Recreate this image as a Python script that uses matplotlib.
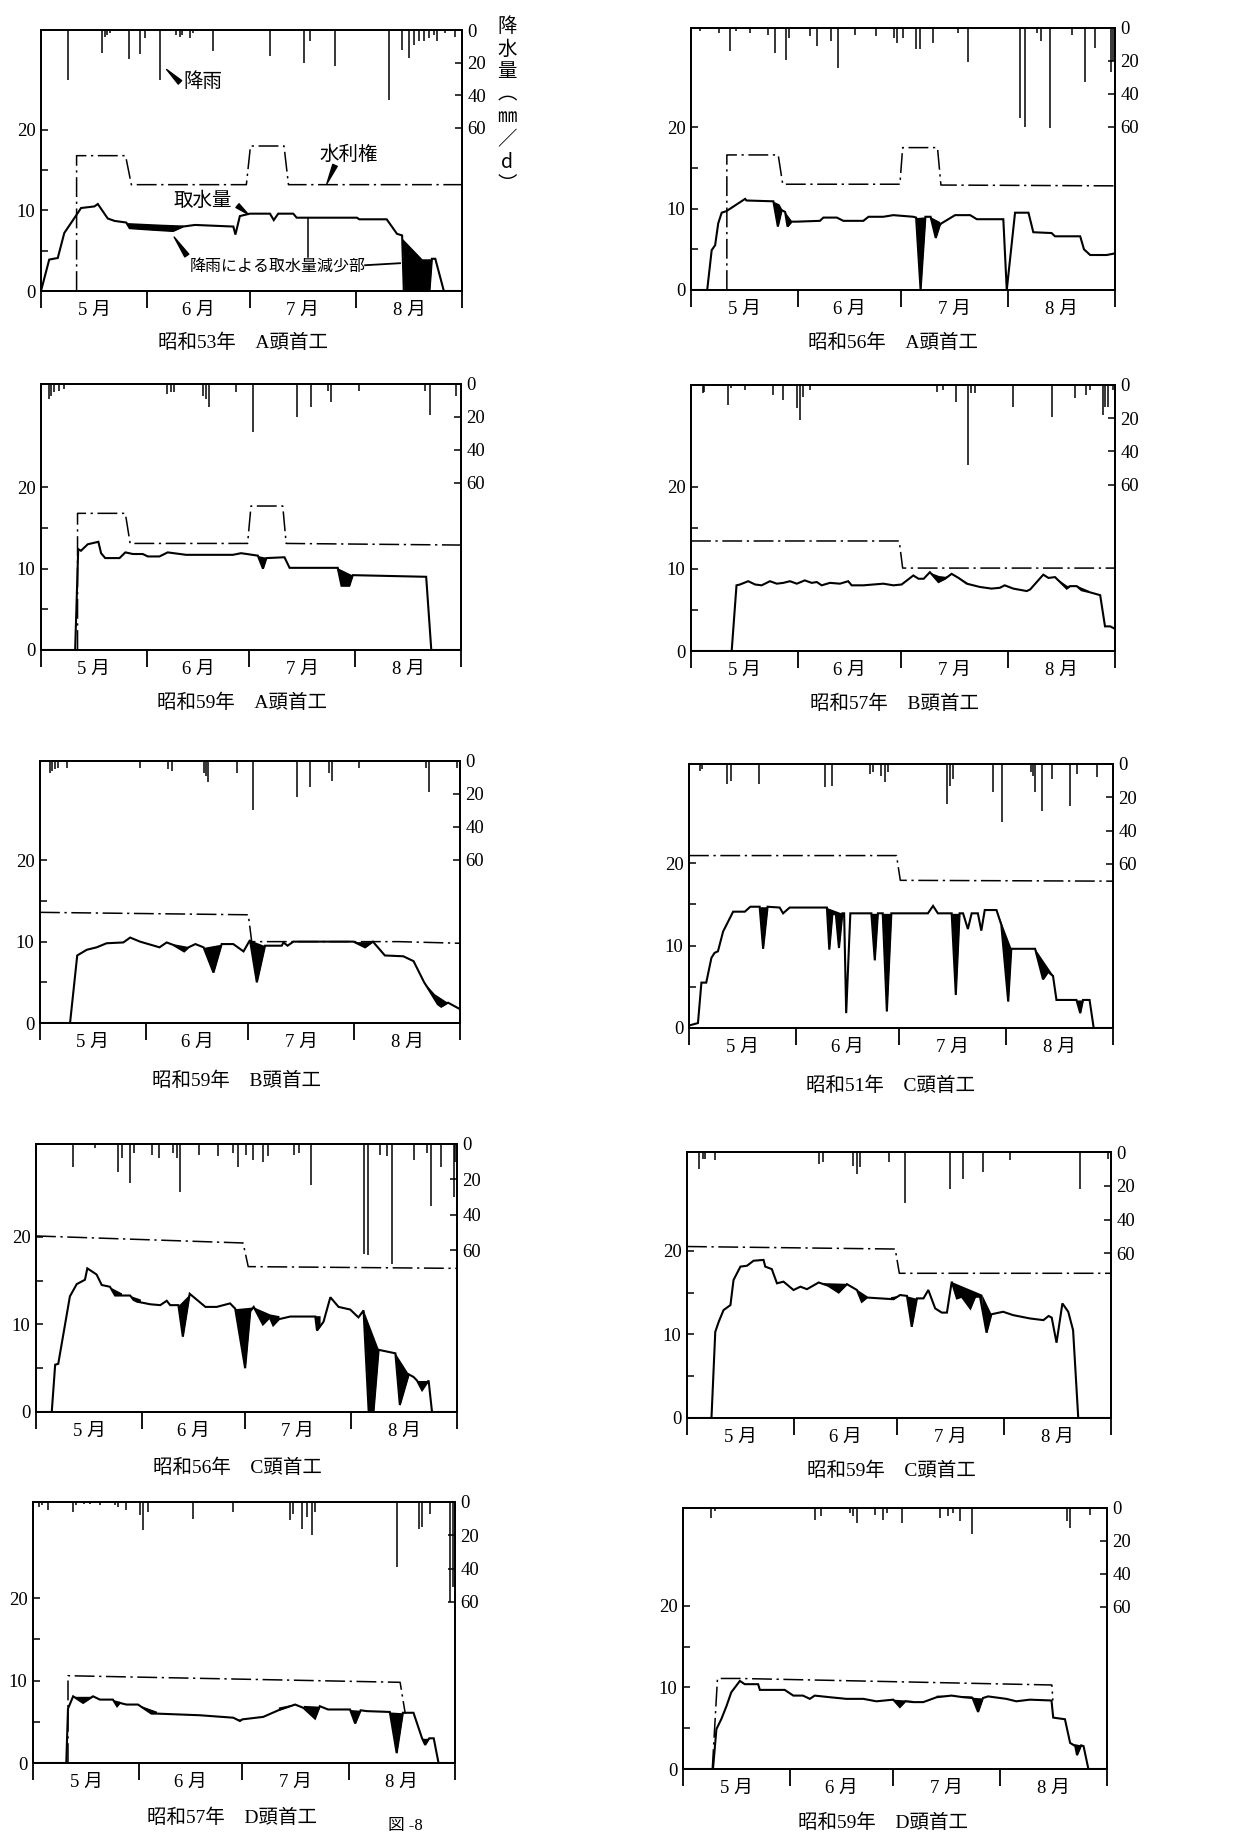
import numpy as np
import matplotlib
matplotlib.use("Agg")
import matplotlib.pyplot as plt

plt.rcParams['font.family'] = ['Liberation Serif', 'Noto Sans CJK JP', 'DejaVu Sans']

W, H = 1255, 1843
DAYS = 123                      # May 1 .. Sep 1
MONTH_EDGES = [0, 31, 61, 92, 123]
MONTH_LABELS = ['5 月', '6 月', '7 月', '8 月']
LEFT_TICKS = [0, 5, 10, 15, 20]
LEFT_LABELS = ['0', '', '10', '', '20']
RAIN_TICKS = [0, 20, 40, 60]

# ---- 昭和53年 A頭首工
p1_rain_day = [7.8, 17.9, 18.6, 19.3, 20.2, 25.7, 28.8, 30.3, 34.7, 39.5, 40.5, 41.2, 43.5, 44.5, 50.3,
               67.0, 76.9, 78.6, 86.0, 101.6, 105.5, 107.4, 108.9, 110.4, 111.8, 113.3, 114.7, 115.7, 118.0, 121.0]
p1_rain_mm = [31, 14, 4, 3, 2, 18, 15, 5, 31, 3, 4, 3, 5, 2, 13,
              16, 20, 6.5, 22, 43, 12, 17, 9, 7, 7, 5, 3, 7, 2, 4.5]
p1_right_day = [10.4, 10.4, 24.7, 26.4, 60.0, 61.2, 71.0, 72.3, 123]
p1_right_val = [0, 16.8, 16.8, 13.2, 13.2, 18.0, 18.0, 13.2, 13.2]
p1_take_day = [0, 2.4, 4.9, 6.8, 10.3, 11.7, 15.6, 16.6, 19.5, 21.5, 24.9, 25.9, 32.7, 38.6, 41.5,
               45.0, 56.2, 56.8, 58.1, 61.0, 66.9, 68.0, 69.3, 73.7, 74.7, 92.3, 93.0, 101.0, 104.0, 105.5,
               106.0, 113.5, 114.2, 115.2, 117.7, 123]
p1_take_val = [0, 3.9, 4.1, 7.2, 9.4, 10.3, 10.5, 10.8, 9.0, 8.7, 8.5, 7.8, 7.6, 7.45, 8.0,
               8.2, 8.0, 7.0, 9.3, 9.6, 9.6, 8.8, 9.6, 9.6, 9.1, 9.1, 8.9, 8.9, 7.1, 6.9,
               0, 0, 4.0, 4.0, 0, 0]
p1_cuts = [([24.9, 30, 35, 41.5], [8.5, 8.4, 8.3, 8.2]),
           ([104.5, 111.3, 114.2], [7.0, 4.0, 4.0])]

# ---- 昭和56年 A頭首工
p2_rain_day = [2.6, 8.2, 11.3, 13.0, 17.0, 22.4, 24.4, 27.6, 28.5, 34.5, 36.5, 40.6, 42.6, 47.6, 53.7,
               59.0, 59.7, 61.6, 65.3, 66.5, 70.3, 77.6, 80.5, 95.5, 97.0, 100.5, 101.5, 104.0, 110.5, 114.4,
               117.3, 121.7, 122.3]
p2_rain_mm = [2, 3, 14, 2, 3, 4, 15, 19.5, 6, 5, 11, 8, 24.6, 4, 5,
              6, 9, 6, 13, 13, 9, 3, 20.5, 55, 60, 3, 8, 61, 4, 33,
              12, 26.6, 20]
p2_right_day = [10.4, 10.4, 25.3, 26.6, 60.6, 61.4, 71.5, 72.5, 123]
p2_right_val = [0, 16.6, 16.6, 13.0, 13.0, 17.5, 17.5, 12.9, 12.8]
p2_take_day = [0, 4.7, 6.0, 7.0, 7.9, 8.9, 10.3, 15.7, 16.1, 23.9, 25.2, 26.3, 27.3, 28.0, 29.2,
               30.7, 37.4, 38.4, 42.3, 44.2, 50.0, 51.5, 55.8, 58.7, 64.5, 65.3, 66.6, 68.0, 69.5, 71.0,
               72.2, 72.7, 76.6, 81.0, 82.9, 90.6, 91.6, 94.0, 97.9, 99.3, 104.6, 105.6, 112.9, 114.0, 115.8,
               120.6, 123]
p2_take_val = [0, 0, 4.9, 5.5, 8.2, 9.5, 9.7, 11.2, 11.0, 10.9, 7.8, 9.8, 9.6, 7.8, 8.4,
               8.4, 8.5, 8.9, 8.9, 8.5, 8.5, 9.0, 9.0, 9.2, 9.0, 8.9, 0, 9.0, 9.0, 6.4,
               8.0, 8.2, 9.2, 9.2, 8.7, 8.7, 0, 9.5, 9.5, 7.1, 7.0, 6.6, 6.6, 5.0, 4.3,
               4.3, 4.5]
p2_cuts = [([23.9, 25.5, 26.3, 27.3, 29.2], [10.9, 10.6, 10.0, 9.6, 8.5]),
           ([65.3, 68.0], [8.9, 9.0]),
           ([69.5, 72.2], [9.0, 8.4])]

# ---- 昭和59年 A頭首工
p3_rain_day = [2.2, 2.9, 3.9, 5.4, 6.8, 37.0, 38.0, 39.0, 47.4, 48.3, 49.1, 57.0, 62.2, 75.0, 79.0,
               84.0, 85.0, 93.0, 112.6, 113.8, 121.6]
p3_rain_mm = [9, 7, 5, 4, 3, 6, 5, 5, 7, 9, 14, 5, 29, 20, 14, 4, 11, 4, 4, 19, 7]
p3_right_day = [10.7, 10.7, 24.7, 26.1, 60.5, 61.5, 70.8, 71.8, 123]
p3_right_val = [0, 16.8, 16.8, 13.1, 13.1, 17.7, 17.7, 13.1, 12.9]
p3_take_day = [0, 10.0, 10.9, 11.7, 13.7, 16.8, 17.6, 18.8, 23.0, 24.7, 26.9, 29.8, 31.3, 34.7, 37.1,
               42.5, 56.2, 58.6, 63.5, 65.0, 66.0, 71.3, 72.8, 86.9, 88.0, 90.3, 91.3, 112.8, 114.3, 123]
p3_take_val = [0, 0, 12.4, 12.2, 13.0, 13.3, 11.9, 11.3, 11.3, 12.0, 11.8, 11.8, 11.5, 11.5, 12.0,
               11.7, 11.7, 11.9, 11.6, 10.0, 11.3, 11.4, 10.1, 10.1, 7.9, 7.9, 9.2, 9.0, 0, 0]
p3_cuts = [([63.5, 66.0], [11.6, 11.4]),
           ([86.9, 91.3], [10.1, 9.2])]

# ---- 昭和57年 B頭首工
p4_rain_day = [3.4, 3.8, 10.6, 11.7, 15.7, 23.9, 26.8, 30.7, 31.6, 32.6, 34.5, 71.3, 73.2, 77.0, 80.5,
               81.2, 82.4, 93.5, 104.6, 111.4, 114.6, 115.8, 119.4, 120.0, 121.1, 122.5]
p4_rain_mm = [5, 4, 12, 2, 3, 6, 9, 14, 21, 7, 3, 4, 3, 10, 48, 5, 5, 13, 19, 8, 6, 3, 18, 13, 13, 3]
p4_right_day = [0, 60.4, 61.4, 123]
p4_right_val = [13.4, 13.4, 10.1, 10.1]
p4_take_day = [0, 11.8, 13.2, 14.2, 16.6, 18.6, 20.5, 22.9, 24.9, 26.8, 28.7, 30.7, 33.0, 35.0, 36.5,
               37.9, 40.3, 43.2, 45.6, 46.6, 50.0, 55.8, 58.7, 61.1, 64.5, 66.0, 67.5, 69.3, 71.8, 73.7,
               75.6, 77.6, 80.0, 83.8, 87.2, 89.6, 91.0, 93.5, 97.4, 98.4, 102.2, 103.7, 105.6, 109.0, 110.0,
               111.9, 113.3, 115.3, 118.7, 120.1, 121.6, 123]
p4_take_val = [0, 0, 8.0, 8.1, 8.5, 8.1, 8.0, 8.5, 8.2, 8.3, 8.5, 8.2, 8.6, 8.3, 8.4,
               8.0, 8.3, 8.2, 8.5, 8.0, 8.0, 8.2, 8.0, 8.1, 9.2, 8.8, 8.8, 9.6, 8.4, 8.8,
               9.4, 8.9, 8.2, 7.8, 7.6, 7.7, 8.0, 7.6, 7.3, 7.5, 9.3, 8.9, 9.0, 7.6, 7.9,
               7.9, 7.4, 7.2, 6.8, 3.0, 3.0, 2.7]
p4_cuts = [([69.3, 71.8, 73.7, 75.6, 77.6, 80.0], [9.6, 9.2, 9.1, 9.4, 9.0, 8.4]),
           ([105.6, 109.0, 111.9, 115.3], [9.0, 8.0, 8.0, 7.4])]

# ---- 昭和59年 B頭首工
p5_rain_day = [2.9, 3.6, 4.3, 5.3, 7.8, 29.3, 37.6, 38.6, 47.9, 48.6, 49.3, 57.6, 62.5, 75.4, 79.1,
               84.5, 85.4, 93.3, 113.0, 114.0, 122.0]
p5_rain_mm = [7, 6, 5, 4, 4, 4, 5, 6, 7, 9, 13, 7, 30, 22, 16, 7, 12, 4, 4, 19, 4]
p5_right_day = [0, 61.0, 62.0, 105, 123]
p5_right_val = [13.6, 13.3, 10.0, 10.0, 9.8]
p5_take_day = [0, 8.8, 10.9, 13.7, 16.6, 19.5, 24.4, 26.4, 29.3, 35.0, 37.1, 39.0, 42.2, 43.5, 45.5,
               47.9, 50.8, 53.2, 56.6, 59.6, 61.5, 63.5, 65.9, 70.8, 71.3, 72.5, 74.2, 91.8, 95.2, 97.5,
               101.0, 106.4, 109.4, 112.5, 114.0, 116.5, 117.5, 119.5, 123]
p5_take_val = [0, 0, 8.3, 9.0, 9.3, 9.8, 9.9, 10.5, 10.0, 9.3, 9.9, 9.6, 8.8, 9.3, 9.7,
               9.3, 6.2, 9.7, 9.7, 8.8, 10.2, 5.0, 9.5, 9.5, 9.9, 9.5, 10.0, 10.0, 9.3, 10.0,
               8.3, 8.2, 7.6, 5.0, 4.0, 2.3, 2.0, 2.5, 1.7]
p5_cuts = [([37.1, 43.5], [9.9, 9.4]),
           ([47.9, 53.2], [9.3, 9.7]),
           ([61.5, 65.9], [10.2, 9.5]),
           ([91.8, 97.5], [10.0, 10.0]),
           ([112.5, 115.5, 119.5], [5.0, 3.6, 2.5])]

# ---- 昭和51年 C頭首工
p6_rain_day = [3.1, 3.9, 11.1, 12.3, 20.3, 39.4, 41.5, 52.4, 53.4, 55.8, 56.8, 57.8, 74.7, 75.6, 76.7,
               88.2, 90.9, 99.3, 99.9, 100.4, 102.5, 105.4, 110.5, 112.5, 118.5]
p6_rain_mm = [4, 3, 12, 10, 12, 14, 13, 6, 5, 7, 11, 5, 24, 13, 9, 17, 35, 5, 7, 17, 28, 9, 25, 6, 8]
p6_right_day = [0, 60.2, 61.3, 123]
p6_right_val = [20.9, 20.9, 17.9, 17.8]
p6_take_day = [0, 2.6, 3.6, 5.0, 6.5, 7.4, 8.4, 9.9, 12.8, 16.2, 17.8, 20.5, 21.5, 22.8, 26.3,
               27.3, 29.2, 40.0, 40.7, 41.6, 42.6, 43.5, 44.5, 45.0, 45.6, 46.8, 52.9, 53.9, 54.8, 56.2,
               57.4, 58.7, 69.3, 70.8, 72.2, 76.2, 77.4, 78.5, 79.5, 80.9, 82.0, 83.8, 84.8, 85.8, 89.2,
               90.6, 92.6, 93.5, 100.4, 102.7, 104.2, 105.6, 106.6, 112.4, 113.5, 114.3, 116.2, 117.4, 123]
p6_take_val = [0.3, 0.6, 5.5, 5.5, 8.5, 9.1, 9.3, 11.7, 14.1, 14.1, 14.7, 14.7, 9.6, 14.7, 14.6,
               13.9, 14.6, 14.6, 9.5, 13.8, 13.8, 9.7, 13.9, 13.9, 1.8, 13.9, 13.9, 8.2, 13.9, 13.9,
               2.0, 13.9, 13.9, 14.8, 13.9, 13.9, 4.0, 13.9, 13.9, 12.0, 13.9, 13.9, 11.8, 14.3, 14.3,
               12.5, 3.2, 9.6, 9.6, 5.9, 6.8, 6.3, 3.4, 3.4, 1.8, 3.4, 3.4, 0, 0]
p6_cuts = [([20.5, 22.8], [14.7, 14.7]),
           ([40.0, 44.5], [14.6, 13.9]),
           ([52.9, 54.8], [13.9, 13.9]),
           ([56.2, 58.7], [13.9, 13.9]),
           ([76.2, 78.5], [13.9, 13.9]),
           ([89.2, 93.5], [14.3, 9.6]),
           ([100.4, 105.6], [9.6, 6.4]),
           ([112.4, 114.3], [3.4, 3.4])]

# ---- 昭和56年 C頭首工
p7_rain_day = [10.9, 17.2, 24.1, 25.0, 27.5, 28.5, 34.0, 36.0, 40.0, 41.2, 42.1, 47.5, 53.3, 57.7, 58.9,
               61.4, 63.5, 66.4, 67.9, 75.3, 76.7, 80.3, 95.7, 96.9, 100.6, 102.5, 104.0, 110.3, 114.3, 115.5,
               118.4, 122.0, 122.5]
p7_rain_mm = [13, 2, 16, 8, 22, 5, 6, 8, 5, 8, 27, 6, 7, 5, 13,
              6, 9, 10, 7, 6, 5, 23, 62, 63, 6, 7, 68, 9, 5, 35,
              13, 30, 10]
p7_right_day = [0, 60.5, 62.0, 123]
p7_right_val = [20.1, 19.3, 16.6, 16.4]
p7_take_day = [0, 4.6, 5.6, 6.5, 9.9, 11.9, 14.3, 15.0, 17.7, 19.2, 21.6, 23.1, 24.1, 27.5, 28.5,
               29.5, 33.4, 36.3, 38.2, 39.2, 41.6, 42.9, 44.9, 49.5, 52.8, 56.7, 58.2, 61.1, 62.6, 63.6,
               66.3, 68.3, 69.3, 71.0, 74.3, 81.6, 82.1, 84.0, 86.0, 88.4, 91.8, 94.2, 95.7, 97.2, 98.6,
               100.1, 105.0, 106.3, 108.9, 110.3, 111.3, 112.8, 114.7, 115.7, 123]
p7_take_val = [0, 0, 5.4, 5.5, 13.2, 14.6, 15.1, 16.4, 15.7, 14.5, 14.3, 13.3, 13.3, 13.3, 12.8,
               12.6, 12.3, 12.2, 12.7, 12.2, 12.2, 8.6, 13.5, 12.0, 12.0, 12.4, 11.8, 5.0, 11.5, 12.0,
               10.0, 10.8, 9.9, 10.6, 10.9, 10.9, 9.3, 10.3, 13.1, 12.0, 11.7, 10.8, 11.6, 0, 0,
               7.1, 6.7, 0.8, 4.3, 4.0, 3.6, 2.5, 3.6, 0, 0]
p7_cuts = [([22.0, 25.0], [14.2, 13.6]),
           ([27.5, 30.5], [13.3, 12.9]),
           ([41.6, 44.9], [12.2, 13.5]),
           ([58.2, 63.6], [11.8, 12.0]),
           ([63.6, 68.3, 71.0], [12.0, 11.2, 11.0]),
           ([81.0, 83.0], [11.0, 11.0]),
           ([95.7, 100.1], [11.6, 7.1]),
           ([105.0, 108.9], [6.7, 4.3]),
           ([111.3, 114.7], [3.6, 3.6])]

# ---- 昭和59年 C頭首工
p8_rain_day = [3.4, 4.6, 5.3, 8.2, 38.2, 39.4, 48.3, 49.3, 50.2, 58.5, 63.3, 76.3, 80.2, 85.9, 93.7, 114.0, 122.0]
p8_rain_mm = [10, 4, 4, 5, 7, 6, 8, 13, 9, 6, 30, 22, 16, 12, 5, 22, 4]
p8_right_day = [0, 60.4, 61.6, 123]
p8_right_val = [20.5, 20.2, 17.3, 17.3]
p8_take_day = [0, 7.1, 8.2, 9.2, 10.6, 12.6, 13.5, 15.5, 17.4, 19.3, 22.2, 22.7, 24.6, 26.1, 28.0,
               30.9, 32.9, 34.8, 38.2, 41.0, 44.0, 46.4, 49.3, 50.7, 52.2, 59.9, 61.8, 63.8, 65.2, 66.7,
               68.6, 70.0, 72.0, 73.9, 75.4, 76.8, 78.3, 79.7, 82.2, 83.6, 85.0, 86.9, 88.3, 91.7, 94.6,
               99.5, 103.4, 104.9, 105.8, 107.2, 108.9, 110.6, 112.0, 113.5, 123]
p8_take_val = [0, 0, 10.3, 11.5, 12.9, 13.5, 16.5, 18.1, 18.2, 18.8, 18.9, 18.1, 17.8, 16.1, 16.3,
               15.3, 15.7, 15.4, 16.2, 15.8, 15.0, 16.0, 15.3, 13.9, 14.4, 14.2, 14.7, 14.6, 10.9, 14.3,
               14.3, 15.3, 13.1, 12.6, 12.6, 16.3, 14.3, 14.5, 13.1, 14.5, 14.5, 10.2, 12.4, 12.7, 12.3,
               11.9, 11.7, 12.2, 12.0, 9.0, 13.7, 12.7, 10.5, 0, 0]
p8_cuts = [([38.2, 46.4], [16.2, 16.1]),
           ([48.5, 52.2], [15.6, 14.6]),
           ([59.0, 61.8], [14.5, 14.7]),
           ([63.8, 66.7], [14.6, 14.3]),
           ([76.8, 85.5], [16.3, 14.8]),
           ([85.5, 88.3], [14.8, 12.4])]

# ---- 昭和57年 D頭首工
p9_rain_day = [1.8, 2.5, 4.4, 11.7, 12.6, 15.0, 16.5, 19.5, 23.8, 24.8, 27.2, 31.1, 32.1, 33.5, 46.5,
               58.2, 74.9, 75.9, 78.3, 79.8, 81.2, 82.2, 106.0, 112.4, 113.3, 115.8, 121.6, 122.4]
p9_rain_mm = [3, 2, 5, 6, 2, 1.5, 1.5, 2, 2, 3, 5, 8, 17, 6, 10, 6, 11, 7, 16, 9, 20, 6, 39, 16, 15, 7, 60, 51]
p9_right_day = [10.2, 10.2, 107.0, 108.5]
p9_right_val = [0, 10.6, 9.8, 6.0]
p9_take_day = [0, 9.7, 10.2, 11.7, 14.6, 17.5, 19.5, 23.3, 24.5, 25.3, 27.2, 30.6, 34.5, 36.0, 48.6,
               58.4, 60.3, 61.0, 67.1, 71.5, 76.4, 78.8, 82.2, 83.6, 86.0, 92.4, 93.9, 95.5, 97.3, 104.0,
               106.0, 107.8, 110.9, 113.4, 114.3, 115.5, 116.8, 118.2, 123]
p9_take_val = [0, 0, 6.6, 8.1, 7.3, 8.1, 7.7, 7.7, 6.9, 7.3, 7.1, 7.1, 6.0, 6.0, 5.8,
               5.5, 5.1, 5.3, 5.6, 6.4, 7.1, 6.7, 5.4, 6.9, 6.5, 6.5, 4.8, 6.4, 6.3, 6.2,
               1.2, 6.1, 6.1, 3.0, 2.2, 3.0, 3.0, 0, 0]
p9_cuts = [([11.7, 17.5], [8.1, 8.1]),
           ([23.3, 25.3], [7.7, 7.5]),
           ([30.6, 36.0], [7.1, 6.3]),
           ([59.0, 61.0], [5.4, 5.3]),
           ([71.5, 76.4], [6.8, 7.2]),
           ([78.8, 83.6], [7.0, 6.9]),
           ([92.4, 95.5], [6.5, 6.4]),
           ([104.0, 107.8], [6.2, 6.1]),
           ([113.4, 115.5], [3.0, 3.0])]

# ---- 昭和59年 D頭首工
p10_rain_day = [8.2, 9.2, 38.2, 40.1, 48.4, 49.3, 50.6, 55.7, 58.1, 59.1, 63.4, 74.5, 77.0, 78.4, 80.5,
                83.9, 111.4, 112.4, 118.2]
p10_rain_mm = [6, 2, 7, 5, 3, 5, 9, 4, 7, 3, 9, 6, 5, 3, 8, 16, 8, 12, 4]
p10_right_day = [8.5, 10.0, 16.5, 107.0, 107.3]
p10_right_val = [0, 11.1, 11.1, 10.3, 8.4]
p10_take_day = [0, 8.7, 9.7, 11.1, 12.6, 14.0, 16.5, 17.9, 21.8, 22.3, 29.5, 32.0, 34.8, 36.8, 38.2,
                42.6, 47.4, 52.3, 56.1, 61.0, 62.9, 64.5, 66.8, 69.7, 73.6, 77.9, 81.3, 84.0, 85.6, 87.0,
                88.5, 93.8, 96.7, 100.6, 106.9, 107.4, 110.8, 112.3, 113.8, 114.3, 115.5, 116.2, 117.6, 123]
p10_take_val = [0, 0, 4.9, 6.1, 7.7, 9.4, 10.8, 10.4, 10.4, 9.7, 9.7, 9.0, 9.0, 8.6, 9.0,
                8.8, 8.6, 8.6, 8.3, 8.5, 7.6, 8.3, 8.2, 8.2, 8.8, 9.0, 8.8, 8.7, 7.0, 8.7,
                8.9, 8.6, 8.3, 8.5, 8.4, 6.3, 6.1, 3.2, 2.8, 1.7, 2.9, 2.8, 0, 0]
p10_cuts = [([59.5, 66.8], [8.6, 8.4]),
            ([73.6, 84.0], [9.0, 8.9]),
            ([84.0, 87.0], [8.8, 8.7]),
            ([112.3, 116.2], [3.2, 2.9])]

titles = ['昭和53年　A頭首工', '昭和56年　A頭首工', '昭和59年　A頭首工', '昭和57年　B頭首工',
          '昭和59年　B頭首工', '昭和51年　C頭首工', '昭和56年　C頭首工', '昭和59年　C頭首工',
          '昭和57年　D頭首工', '昭和59年　D頭首工']

# layout in pixels: (left, right, top, bottom), y-top value, title centre (x, y)
boxes = [(41, 462, 30, 291), (691, 1115, 28, 290), (41, 461, 384, 650), (691, 1115, 385, 651),
         (40, 460, 761, 1023), (689, 1113, 764, 1028), (36, 457, 1144, 1412), (687, 1111, 1152, 1418),
         (33, 455, 1502, 1763), (683, 1107, 1508, 1769)]
ytops = [32.4, 32.2, 32.7, 32.4, 32.2, 32.0, 30.6, 31.8, 31.7, 32.0]
title_xy = [(243, 343), (893, 343), (242, 703), (894, 704), (237, 1081),
            (891, 1086), (237, 1468), (891, 1471), (232, 1818), (883, 1823)]

series = [
    (p1_rain_day, p1_rain_mm, p1_right_day, p1_right_val, p1_take_day, p1_take_val, p1_cuts),
    (p2_rain_day, p2_rain_mm, p2_right_day, p2_right_val, p2_take_day, p2_take_val, p2_cuts),
    (p3_rain_day, p3_rain_mm, p3_right_day, p3_right_val, p3_take_day, p3_take_val, p3_cuts),
    (p4_rain_day, p4_rain_mm, p4_right_day, p4_right_val, p4_take_day, p4_take_val, p4_cuts),
    (p5_rain_day, p5_rain_mm, p5_right_day, p5_right_val, p5_take_day, p5_take_val, p5_cuts),
    (p6_rain_day, p6_rain_mm, p6_right_day, p6_right_val, p6_take_day, p6_take_val, p6_cuts),
    (p7_rain_day, p7_rain_mm, p7_right_day, p7_right_val, p7_take_day, p7_take_val, p7_cuts),
    (p8_rain_day, p8_rain_mm, p8_right_day, p8_right_val, p8_take_day, p8_take_val, p8_cuts),
    (p9_rain_day, p9_rain_mm, p9_right_day, p9_right_val, p9_take_day, p9_take_val, p9_cuts),
    (p10_rain_day, p10_rain_mm, p10_right_day, p10_right_val, p10_take_day, p10_take_val, p10_cuts),
]

fig = plt.figure(figsize=(W / 100, H / 100), dpi=100)
FS = 13.5


def draw_panel(box, ytop, rain_d, rain_mm, right_d, right_v, take_d, take_v, cuts):
    l, r, t, b = box
    ax = fig.add_axes([l / W, 1 - b / H, (r - l) / W, (b - t) / H])
    ax.set_xlim(0, DAYS)
    ax.set_ylim(0, ytop)
    for s in ax.spines.values():
        s.set_linewidth(1.3)

    # black area: intake lost because of rain
    for cd, cv in cuts:
        xs = np.linspace(cd[0], cd[-1], 400)
        xs = np.union1d(xs, [d for d in take_d if cd[0] < d < cd[-1]])
        top = np.interp(xs, cd, cv)
        act = np.interp(xs, take_d, take_v)
        ax.fill_between(xs, act, top, where=top >= act, interpolate=True, color='black', lw=0)

    ax.plot(take_d, take_v, color='black', lw=1.5, solid_joinstyle='miter')
    ax.plot(right_d, right_v, color='black', lw=1.1, ls=(0, (13, 3, 1.5, 3)))

    ax.set_yticks(LEFT_TICKS)
    ax.set_yticklabels(LEFT_LABELS)
    ax.tick_params(axis='y', direction='in', length=5, width=1.1, labelsize=FS, pad=4)
    ax.set_xticks(MONTH_EDGES)
    ax.set_xticklabels([])
    ax.tick_params(axis='x', which='major', direction='out', length=12, width=1.3)
    mids = [(a + c) / 2 for a, c in zip(MONTH_EDGES[:-1], MONTH_EDGES[1:])]
    ax.set_xticks(mids, minor=True)
    ax.set_xticklabels(MONTH_LABELS, minor=True)
    ax.tick_params(axis='x', which='minor', length=0, labelsize=FS, pad=8)

    ax2 = ax.twinx()
    ax2.set_ylim(ytop * 4.95, 0)
    ax2.vlines(rain_d, 0, rain_mm, color='black', lw=1.1)
    ax2.set_yticks(RAIN_TICKS)
    ax2.tick_params(axis='y', direction='in', length=5, width=1.1, labelsize=FS, pad=4)
    for s in ax2.spines.values():
        s.set_linewidth(1.3)
    return ax


axes = []
for box, ytop, sr in zip(boxes, ytops, series):
    axes.append(draw_panel(box, ytop, *sr))

for title, (tx, ty) in zip(titles, title_xy):
    fig.text(tx / W, 1 - ty / H, title, ha='center', va='center', fontsize=14)

# annotations of the first panel
a1 = axes[0]
wedge = dict(arrowstyle='wedge,tail_width=0.35', color='black', shrinkA=0, shrinkB=0)
a1.text(47.3, 26.0, '降雨', ha='center', va='center', fontsize=14)
a1.annotate('', xy=(36.7, 27.5), xytext=(40.6, 25.9), arrowprops=wedge)
a1.text(90.0, 16.9, '水利権', ha='center', va='center', fontsize=14)
a1.annotate('', xy=(83.5, 13.3), xytext=(85.9, 15.6), arrowprops=wedge)
a1.text(47.3, 11.2, '取水量', ha='center', va='center', fontsize=14)
a1.annotate('', xy=(60.6, 9.5), xytext=(57.4, 10.6), arrowprops=wedge)
a1.text(69.2, 3.0, '降雨による取水量減少部', ha='center', va='center', fontsize=11.5)
a1.annotate('', xy=(38.9, 6.7), xytext=(42.6, 4.4), arrowprops=wedge)
a1.plot([94.7, 104.9], [3.2, 3.45], color='black', lw=1.3)
a1.plot([78.1, 78.1], [9.05, 4.2], color='black', lw=1.1)

fig.text(507 / W, 1 - 16 / H, '降\n水\n量\n︵\n㎜\n／\nd\n︶', ha='center', va='top',
         fontsize=14, linespacing=1.1, family=['Noto Sans CJK JP', 'DejaVu Sans'])

fig.text(388 / W, 1 - 1826 / H, '図 -8', ha='left', va='center', fontsize=12)

fig.savefig('out.png', dpi=100, facecolor='white')
